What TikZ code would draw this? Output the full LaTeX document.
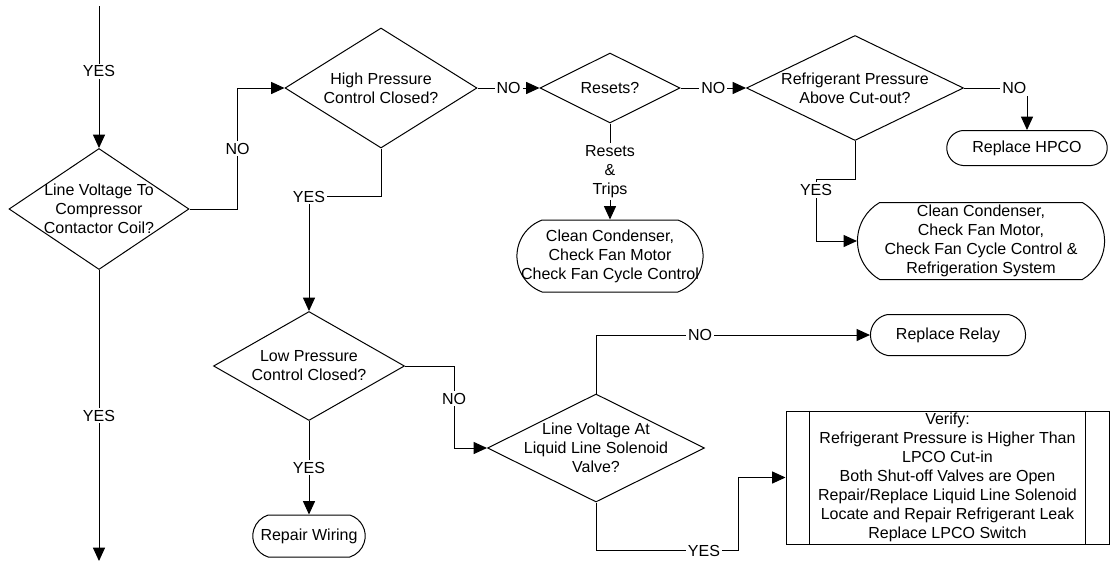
\documentclass[tikz,border=0pt]{standalone}
\usepackage{fontspec}
\setmainfont{Liberation Sans}
\usetikzlibrary{arrows.meta,shapes.geometric,shapes.misc}
\tikzset{
  decision/.style={diamond,draw,line width=0.75pt,inner sep=-8pt,shape aspect=2,align=center},
  terminal/.style={rounded rectangle,draw,line width=0.75pt,inner ysep=0pt,align=center},
  flow/.style={-{Triangle[length=10pt,width=9pt]},line width=0.75pt},
  tag/.style={fill=white,inner sep=1.5pt,align=center}
}

\begin{document}
\begin{tikzpicture}[x=0.75pt,y=-0.75pt,font=\fontsize{12}{14.25}\selectfont]
        \useasboundingbox (0,0) rectangle (1112,564);
        \node[decision,minimum width=135pt,minimum height=90.75pt] (coil) at (99,209) {Line Voltage To\\Compressor\\Contactor Coil?};
        \node[decision,minimum width=144pt,minimum height=90pt] (hpc) at (381,88) {High Pressure\\Control Closed?};
        \node[decision,minimum width=105pt,minimum height=52.5pt] (resets) at (610,88) {Resets?};
        \node[decision,minimum width=162.75pt,minimum height=78.75pt] (refp) at (855,88) {Refrigerant Pressure\\Above Cut-out?};
        \node[decision,minimum width=143.25pt,minimum height=81.75pt] (lpc) at (309,366) {Low Pressure\\Control Closed?};
        \node[decision,minimum width=162.75pt,minimum height=81pt] (llsv) at (596,448) {Line Voltage At\\Liquid Line Solenoid\\Valve?};
        \node[terminal,rounded rectangle arc length=140,minimum width=146.25pt,minimum height=54pt,
          label={[align=center]center:{Clean Condenser,\\Check Fan Motor\\Check Fan Cycle Control}}] (clean1) at (610,256) {};
        \node[terminal,rounded rectangle arc length=170,minimum width=127pt,minimum height=26.25pt] (hpco) at (1027,148) {Replace HPCO};
        \node[terminal,rounded rectangle arc length=120,minimum width=192pt,minimum height=57.75pt] (clean2) at (981,241) {Clean Condenser,\\Check Fan Motor,\\Check Fan Cycle Control \&\\Refrigeration System};
        \node[terminal,rounded rectangle arc length=160,minimum width=123pt,minimum height=30.75pt] (relay) at (948,335) {Replace Relay};
        \node[terminal,rounded rectangle arc length=145,minimum width=91pt,minimum height=31.5pt] (wiring) at (309,536) {Repair Wiring};
        \node[draw,line width=0.75pt,inner sep=0pt,align=center,minimum width=242.25pt,minimum height=99.75pt] (verify) at (947.5,477.5) {Verify:\\Refrigerant Pressure is Higher Than\\LPCO Cut-in\\Both Shut-off Valves are Open\\Repair/Replace Liquid Line Solenoid\\Locate and Repair Refrigerant Leak\\Replace LPCO Switch};
        \draw[line width=0.75pt] ([xshift=18pt]verify.north west) -- ([xshift=18pt]verify.south west);
        \draw[line width=0.75pt] ([xshift=-18pt]verify.north east) -- ([xshift=-18pt]verify.south east);
        \coordinate (start) at (99,6);
        \coordinate (finish) at (99,561);
        \draw[flow] (start) -- node[tag,pos=0.46]{YES} (coil.north);
        \draw[flow] (coil.south) -- node[tag]{YES} (finish);
        \draw[flow] (coil.east) -- ++(48,0) |- node[tag,pos=0.25]{NO} (hpc.west);
        \draw[flow] (hpc.east) -- node[tag]{NO} (resets.west);
        \draw[flow] (resets.east) -- node[tag]{NO} (refp.west);
        \draw[flow] (refp.east) -| node[tag,pos=0.4]{NO} (hpco.north);
        \draw[flow] (resets.south) -- node[tag]{Resets\\\&\\Trips} (clean1.north);
        \draw[flow] (refp.south) -- ++(0,38) -- ++(-39,0) |- node[tag,pos=0.09]{YES} (clean2.west);
        \draw[flow] (hpc.south) -- ++(0,48) -| node[tag]{YES} (lpc.north);
        \draw[flow] (lpc.east) -- ++(49,0) |- node[tag,pos=0.2]{NO} (llsv.west);
        \draw[flow] (lpc.south) -- node[tag]{YES} (wiring.north);
        \draw[flow] (llsv.north) |- node[tag,pos=0.69]{NO} (relay.west);
        \draw[flow] (llsv.south) -- ++(0,48) -- node[tag,pos=0.76]{YES} ++(142,0) |- (verify.west);
      \end{tikzpicture}
\end{document}
